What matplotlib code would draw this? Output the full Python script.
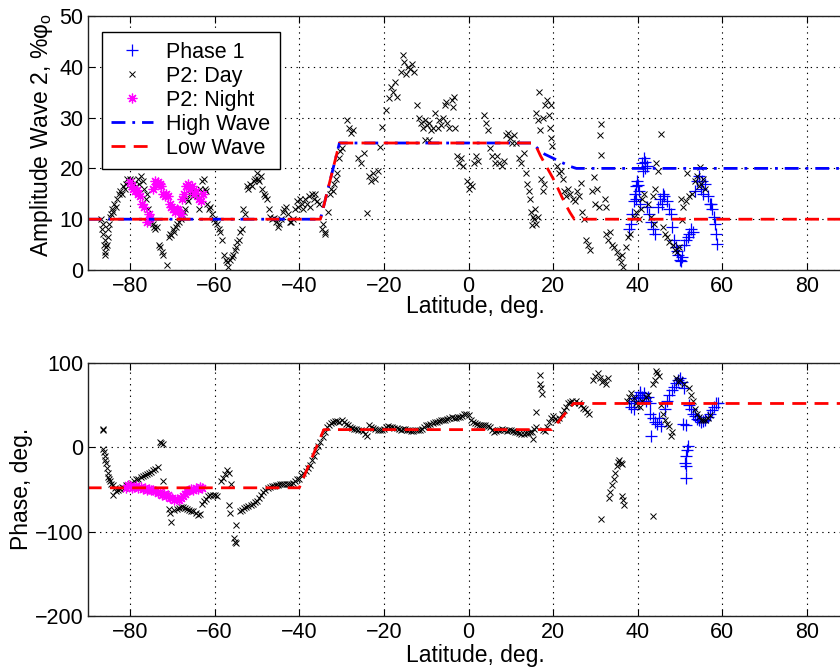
import matplotlib
matplotlib.use('Agg')
import matplotlib.pyplot as plt

plt.rcParams['font.family'] = ['Liberation Sans', 'DejaVu Sans']
plt.rcParams['mathtext.fontset'] = 'custom'
plt.rcParams['mathtext.rm'] = 'Liberation Sans'
plt.rcParams['mathtext.it'] = 'Liberation Sans:italic'
plt.rcParams['axes.unicode_minus'] = True

# ---------------- data (lat, value) ----------------
amp_day = [
(-86.8,10),(-86.6,8),(-86.5,9),(-86.3,7),(-86.2,5),(-86.0,6),(-85.9,3.5),(-85.8,3),(-85.6,4.5),(-85.5,5),(-85.3,6.5),(-85.1,8),(-85.0,9),(-84.8,10.5),(-84.5,11),(-84.2,12),(-84.0,11.5),(-83.7,13),(-83.4,12.5),(-83.0,14),(-82.7,15),(-82.3,15.5),(-82.0,15),(-81.6,16.5),(-81.3,16),(-81.0,17),(-80.7,18),(-80.3,17.5),(-80.0,18),(-79.5,17.8),(-79.0,17),(-78.6,16.5),(-78.2,18),(-77.8,17),(-77.4,18.5),(-77.0,17.5),(-76.6,16),(-76.3,14),(-76.0,15),(-75.7,12),(-75.3,10),(-75.0,9.5),(-74.6,9),(-74.3,8.5),(-74.0,8),(-73.6,8.5),(-73.2,5),(-72.8,4.5),(-72.5,3.5),(-72.2,3),(-71.2,1),
(-70.8,6.5),(-70.5,7),(-70.2,6.8),(-69.8,8),(-69.5,7.5),(-69.2,8.5),(-68.8,9),(-68.4,9.5),(-68.0,10),(-67.7,11),(-67.3,11.5),(-67.0,12),(-66.6,14),(-66.2,13.5),(-65.8,15),(-65.4,15.5),(-65.0,14.5),(-64.6,15),(-64.2,14.5),(-63.8,12),(-63.5,16),(-63.0,17.5),(-62.6,18),(-62.3,16),(-62.0,15.5),(-61.7,13),(-61.3,12),(-61.0,12.5),(-60.6,11),(-60.2,10),(-59.8,9.5),(-59.4,9),(-59.0,8),(-58.7,7.5),(-58.3,6),(-57.8,3),(-57.4,2),(-57.0,1.5),(-56.8,0.5),(-56.4,2),(-56.0,2.5),(-55.7,3),(-55.3,4),(-55.0,4.5),(-54.6,5.5),(-54.3,6),(-54.0,7.5),(-53.6,8),(-53.2,12),(-52.8,11),(-52.4,16.5),(-52.0,16),(-51.6,17),(-51.2,16.5),(-50.8,17.5),(-50.4,18),(-50.0,19),(-49.7,18),(-49.4,17.5),(-49.0,18.5),(-48.7,16),(-48.3,15),(-48.0,14.5),(-47.6,14),(-47.2,12),(-46.8,10.5),(-46.4,10),(-46.0,10.2),(-45.5,9.5),(-45.1,8.5),(-44.7,9),(-44.3,10),(-43.9,11.5),(-43.5,12),(-43.1,12.5),(-42.7,11),(-42.3,9.5),(-41.9,9.5),(-41.5,10),(-41.0,12),(-40.6,13.5),(-40.2,12.5),(-39.8,14),(-39.4,13),(-39.0,12),(-38.6,14),(-38.2,13),(-37.8,14.5),(-37.4,12.5),(-37.0,15),(-36.6,14),(-36.2,15),(-35.8,13.5),(-35.4,13),(-34.6,8),(-34.3,9),(-34.0,7.5),(-33.8,7),(-33.2,11.5),(-32.8,15),(-32.4,16),(-32.0,15.5),(-31.7,17),(-31.4,18),(-31.0,19),(-30.7,22),(-30.3,23.5),(-30.0,24),
(-28.6,29.5),(-28.2,28),(-27.8,27),(-27.4,27.5),(-26.0,22),(-25.5,21),(-24.8,23),(-24.0,11.2),(-23.5,18.5),(-23.0,17.5),(-22.5,19),(-22.0,18),(-21.5,19.5),(-20.8,24.3),(-20.4,28.1),(-19.6,31.4),(-18.8,33.8),(-18.3,36),(-17.8,35),(-17.3,37),(-16.9,34),(-16.0,39),(-15.5,42.3),(-15.2,41),(-14.7,38.5),(-14.2,40),(-13.8,39.5),(-13.3,40.5),(-12.8,39),(-12.1,32.5),(-11.7,30),(-11.2,29),(-10.8,28),(-10.3,29.5),(-10.2,25.5),(-9.8,28.5),(-9.3,29),(-9.3,25.5),(-8.8,27.5),(-8.4,28),(-8.0,31),(-7.2,28),(-7.0,29.5),(-6.4,28.5),(-6.0,30),(-5.5,32.5),(-5.2,33),(-5.0,29),(-4.5,28),(-3.9,33.5),(-3.6,32),(-3.4,34),(-3.2,28),(-2.6,22.5),(-2.2,21),(-1.8,22),(-1.4,20.5),(-0.4,17.5),(0.0,16),(0.4,17),(0.8,16.5),(1.3,21),(1.8,22.5),(2.3,21.5),(3.7,30.5),(4.2,29),(4.6,27.5),(5.0,24),(5.5,22.5),(6.2,21),(6.8,22.5),(7.3,21),(7.8,20.5),(8.3,21.5),(8.8,26.5),(9.3,27),(9.8,26),(10.3,25),(10.8,26.5),(11.3,25),(12.0,22),(12.5,21),(13.0,23),(13.5,19),(13.8,17),(14.2,15.5),(14.5,14),(14.8,11.5),(15.0,8.9),(15.2,10.5),(15.5,10),(15.8,12),(16.0,9),(16.5,10.5),
(16.0,31),(16.5,29.5),(16.6,35),(17.0,27.5),(17.5,30),(18.0,32.5),(18.5,33.5),(19.0,30.5),(19.2,28),(19.4,32.5),(19.5,26),(19.8,24.5),(17.2,18),(17.6,15.5),(17.9,17),(20.8,20.5),(21.3,19),(21.8,19.5),(22.3,18),(22.6,15.5),(23.1,14.5),(23.6,16),(24.1,15),(24.6,14),(25.1,13.5),(25.6,15.5),(26.1,14.5),(26.5,17.2),(26.8,11.5),(27.3,10),(27.8,6),(28.3,5),(28.7,4),(29.2,15.5),(29.7,18.4),(29.8,13),(30.3,16),(30.8,12.5),(31.1,26.5),(31.2,28.7),(31.4,22.6),(32.3,14),(32.6,12.5),(32.5,7),(33.0,6),(33.5,7.5),(34.0,5),(34.5,4.5),(35.0,3.5),(35.5,2.5),(36.0,1.5),(36.5,0.5),(36.3,3),(37.3,4.5),(37.7,6.5),(38.1,7),(39.2,10.5),(39.7,11.5),(40.2,10),(40.7,12),(41.0,14),(41.5,15),(42.5,13),(43.2,10.5),(43.5,14.5),(43.8,9),(44.0,16),(44.4,21),(44.8,19.5),(45.4,26.8),(46.0,8.5),(46.5,7),(47.0,6.5),(47.5,5.5),(48.3,5),(48.8,4),(49.2,3.5),(49.8,4.5),(50.2,14),(50.4,9.8),(50.8,12.5),(51.5,13.5),(51.7,19),(52.2,14.5),(52.8,15),(53.5,17.5),(54.0,18.5),(54.5,16.5),(54.8,20.2),(55.0,17),(55.5,18),(56.0,16)]

amp_night = [(-80.0,17.4),(-79.6,16.5),(-79.2,16),(-78.8,15.5),(-78.4,15.8),(-78.0,15),(-77.6,14.5),(-77.2,13),(-76.6,12.5),(-76.0,9.5),(-75.5,11),(-75.2,10.2),
(-74.6,16),(-74.2,17.5),(-73.8,17),(-73.4,17.3),(-73.0,17),(-72.6,16.5),(-72.2,15),(-71.8,14.5),(-71.4,15),(-71.0,14.5),(-70.6,13),(-70.2,12.5),(-69.8,12),(-69.4,11.5),(-69.0,12),(-68.6,11.8),(-68.0,11),
(-67.8,14),(-67.3,15),(-66.8,16.5),(-66.3,17),(-65.8,16),(-65.3,16.5),(-64.8,15),(-64.3,15.5),(-63.8,14),(-63.3,13.5),(-62.8,15)]

amp_p1 = [(38.0,8),(38.4,9),(38.7,11),(39.0,13.5),(39.3,15),(39.5,14),(39.6,16.5),(39.9,17.5),(40.0,16.8),(40.2,15.5),(40.5,13),(41.0,21),(41.3,19.5),(41.5,22),(41.7,21.2),(41.8,20),(42.2,20.5),(42.2,12.5),(42.7,11),(43.2,9.5),(43.7,8),(44.0,7),(44.8,12.5),(45.3,14),(45.8,13),(46.0,15),(46.3,14.5),(46.8,13.5),(47.3,12),(47.8,11),(48.0,8.5),(48.5,6),(49.0,4.5),(49.2,3.8),(49.5,3),(50.0,2),(50.2,1.8),(50.5,2.5),(51.0,5),(51.5,6),(51.8,6.5),(52.0,7),(52.5,8),(53.0,7.5),(53.5,15.5),(54.0,17.5),(54.5,18.5),(55.0,16),(55.3,17.5),(55.5,15),(56.0,17),(56.5,14.5),(57.0,13),(57.3,13),(57.5,12),(58.0,10.5),(58.3,9),(58.6,7),(58.8,5.2)]

ph_day = [
(-86.5,20),(-86.4,22),(-86.3,-2),(-86.1,-5),(-86.0,-10),(-85.8,-15),(-85.7,-18),(-85.5,-25),(-85.3,-30),(-85.1,-35),(-85.0,-38),(-84.7,-40),(-84.4,-43),(-84.0,-45),(-84.0,-56),(-83.6,-48),(-83.2,-52),(-82.8,-50),(-82.4,-49),(-82.0,-47),(-81.5,-48),(-81.0,-45),(-80.5,-46),(-80.0,-44),(-79.5,-42),(-79.0,-40),(-78.5,-38),(-78.0,-37),(-77.5,-35),(-77.0,-34),(-76.5,-33),(-76.0,-32),(-75.5,-30),(-75.0,-29),(-74.5,-27),(-74.0,-26),(-73.5,-23),(-73.0,6),(-72.6,5),(-72.2,4),(-72.2,-40),(-71.5,-55),(-70.8,-73),(-70.5,-78),(-70.3,-89),(-69.5,-74),(-69.0,-73),(-68.5,-72),(-68.0,-71),(-67.5,-71),(-67.0,-72),(-66.5,-73),(-66.0,-74),(-65.5,-75),(-65.0,-76),(-64.5,-78),(-64.0,-80),(-63.5,-79),(-63.0,-67),(-62.5,-64),(-62.0,-61),(-61.5,-58),(-61.0,-56),(-60.5,-57),(-60.0,-56),(-59.5,-58),(-58.5,-40),(-58.0,-36),(-57.5,-32),(-57.0,-27),(-56.6,-30),(-56.2,-43),(-56.5,-68),(-56.3,-78),(-55.0,-92),(-55.5,-108),(-55.2,-112),(-55.0,-113),
(-54.0,-76),(-53.5,-74),(-53.0,-72),(-52.5,-71),(-52.0,-70),(-51.5,-68),(-51.0,-67),(-50.5,-65),(-50.0,-64),(-49.5,-60),(-49.0,-56),(-48.5,-53),(-48.0,-50),(-47.5,-48),(-47.0,-47),(-46.5,-46),(-46.0,-46),(-45.5,-45),(-45.0,-45),(-44.5,-44),(-44.0,-44),(-43.5,-43),(-43.0,-43),(-42.5,-44),(-42.0,-44),(-41.5,-42),(-41.0,-40),(-40.5,-38),(-40.0,-37),(-39.5,-33),(-39.0,-30),(-38.5,-28),(-38.0,-25),(-37.5,-21),(-37.0,-15),(-36.5,-10),(-36.0,-4),(-35.5,1),(-35.0,6),(-34.5,12),(-34.0,18),(-33.5,24),(-33.0,27),(-32.5,29),(-32.0,30),(-31.5,31),(-31.0,31),(-30.5,30),(-30.0,32),(-29.5,30),(-29.0,28),(-28.5,26),(-28.0,24),(-27.5,23),(-27.0,22),(-26.5,22),(-26.0,21),(-25.5,20),(-25.0,19),(-24.5,16),(-24.0,14),(-23.5,26),(-23.0,24),(-22.5,23),(-22.0,22),(-21.5,21),(-21.0,20),(-20.5,21),(-20.0,22),(-19.5,24),(-19.0,25),(-18.5,24),(-18.0,24),(-17.5,23),(-17.0,23),(-16.5,22),(-16.0,21),(-15.5,22),(-15.0,22),(-14.5,21),(-14.0,20),(-13.5,19),(-13.0,19),(-12.5,20),(-12.0,21),(-11.5,21),(-11.0,22),(-10.5,24),(-10.0,26),(-9.5,27),(-9.0,28),(-8.5,29),(-8.0,30),(-7.5,30),(-7.0,31),(-6.5,32),(-6.0,33),(-5.5,33),(-5.0,34),(-4.5,35),(-4.0,36),(-3.5,35),(-3.0,35),(-2.5,36),(-2.0,36),(-1.5,37),(-1.0,39),(-0.5,40),(0.0,38),
(0.5,33),(1.0,30),(1.5,29),(2.0,28),(2.5,27),(3.0,27),(3.5,26),(4.0,26),(4.5,25),(5.0,24),(5.5,20),(6.0,18),(6.5,19),(7.0,20),(7.5,21),(8.0,22),(8.5,20),(9.0,19),(9.5,20),(10.0,20),(10.5,19),(11.0,18),(11.5,18),(12.0,17),(12.5,16),(13.0,16),(13.5,17),(14.0,17),(14.5,18),(15.0,18),(15.3,10),(15.5,22),(16.0,24),(16.0,42),(16.8,86),(17.0,75),(17.2,70),(17.4,63),(17.5,20),(18.0,19),(18.5,24),(19.0,30),(19.5,35),(20.0,37),(20.5,34),(21.0,32),(21.5,35),(22.0,40),(22.5,44),(23.0,48),(23.5,52),(24.0,54),(24.5,55),(25.0,53),(25.5,55),(26.0,52),(26.5,50),(27.0,47),(27.5,45),(28.0,42),(28.5,40),(29.5,80),(30.0,85),(30.5,88),(31.0,82),(31.5,78),(32.0,80),(32.5,75),(33.0,82),(31.2,-85),(33.2,-60),(33.5,-53),(34.0,-45),(34.3,-38),(34.6,-30),(35.0,-22),(35.3,-17),(35.6,-15),(36.0,-18),(36.3,-20),(36.2,-58),(36.5,-63),(36.8,-68),(43.7,-82),(37.5,55),(38.0,60),(38.5,65),(39.0,58),(39.5,52),(40.0,50),(40.5,48),(41.0,55),(42.0,60),(42.5,62),(43.5,75),(44.0,80),(44.5,88),(44.2,90),(45.0,84),(45.5,50),(46.0,40),(46.5,32),(47.0,28),(47.5,25),(47.8,14),(48.0,18),(49.0,82),(49.5,78),(50.0,80),(51.0,75),(52.0,70),(52.5,62),(53.0,55),(53.5,45),(54.0,40),(54.5,36),(55.0,33),(55.5,32),(56.0,33),(56.5,35),(57.0,38)]

ph_night = [(-81.0,-48),(-80.5,-45),(-80.0,-46),(-79.5,-48),(-79.0,-47),(-78.5,-46),(-78.0,-48),(-77.5,-47),(-77.0,-49),(-76.5,-48),(-76.0,-50),(-75.5,-49),(-75.0,-51),(-74.5,-50),(-74.0,-52),(-73.5,-54),(-73.0,-53),(-72.5,-56),(-72.0,-55),(-71.5,-58),(-71.0,-57),(-70.5,-60),(-70.0,-60),(-69.5,-62),(-69.0,-61),(-68.5,-62),(-68.0,-60),(-67.5,-58),(-67.0,-55),(-66.5,-52),(-66.0,-51),(-65.5,-49),(-65.0,-50),(-64.5,-48),(-64.0,-49),(-63.5,-47),(-63.0,-48)]

ph_p1 = [(38.0,52),(38.5,48),(39.0,55),(39.2,45),(39.5,58),(40.0,60),(40.5,62),(40.5,66),(41.0,60),(41.5,58),(41.5,64),(42.0,55),(42.5,60),(43.0,52),(43.0,40),(43.2,13),(43.5,35),(44.0,30),(44.5,28),(45.0,35),(45.5,25),(46.5,45),(47.0,55),(47.5,62),(48.0,68),(48.5,72),(49.0,76),(49.5,80),(50.0,82),(50.5,78),(51.0,70),(50.8,28),(51.3,26),(51.8,2),(51.6,-3),(51.4,-10),(51.2,-18),(51.3,-22),(51.3,-36),(52.0,50),(52.5,45),(53.0,40),(53.5,37),(54.0,34),(54.5,32),(55.0,30),(55.5,31),(56.0,33),(56.5,36),(57.0,40),(57.5,44),(58.0,48),(58.5,52),(59.0,53)]

high_amp_lat = [-90, -35, -30.5, 15, 16, 17, 18, 20, 22, 24, 25.5, 90]
high_amp_val = [10, 10, 25, 25, 24.2, 23.4, 22.8, 22, 21.2, 20.4, 20, 20]
low_amp_lat = [-90, -35, -30.5, 15, 16, 17, 18, 19, 20, 21, 22, 23, 24, 25, 90]
low_amp_val = [10, 10, 25, 25, 24.3, 22.5, 21, 19.5, 18, 16.3, 14.5, 12.8, 11.3, 10, 10]
low_ph_lat = [-90, -40, -34.2, 19.7, 24.8, 90]
low_ph_val = [-48, -48, 21, 21, 52, 52]

xticks = [-80, -60, -40, -20, 0, 20, 40, 60, 80]
amp_ticks = [0, 10, 20, 30, 40, 50]
ph_ticks = [-200, -100, 0, 100]


def unzip(pairs):
    return [p[0] for p in pairs], [p[1] for p in pairs]


FS_TICK = 15.5
FS_LAB = 16.5
FS_LEG = 15.5
fig = plt.figure(figsize=(8.4, 6.71), dpi=100)
ax1 = fig.add_axes([87.7 / 840, (671 - 270) / 671, 761.6 / 840, 254 / 671])
ax2 = fig.add_axes([87.7 / 840, (671 - 616) / 671, 761.6 / 840, 253 / 671])

star = (8, 2, 0)
xkw = dict(ls='none', marker='x', color='k', ms=5, mew=0.7)
pkw = dict(ls='none', marker='+', color='#0000ff', ms=8, mew=0.9)
skw = dict(ls='none', marker=star, color='#ff00ff', ms=7, mew=0.9)

# top panel
x, y = unzip(amp_p1)
ax1.plot(x, y, label='Phase 1', **pkw)
x, y = unzip(amp_day)
ax1.plot(x, y, label='P2: Day', **xkw)
x, y = unzip(amp_night)
ax1.plot(x, y, label='P2: Night', **skw)
ax1.plot(high_amp_lat, high_amp_val, color='#0000ff', lw=2.0,
         ls=(0, (5, 2.5, 1, 2.5)), label='High Wave')
ax1.plot(low_amp_lat, low_amp_val, color='#ff0000', lw=2.0,
         ls=(0, (5, 3)), label='Low Wave')
ax1.set_ylim(0, 50)
ax1.set_yticks(amp_ticks)

# bottom panel
x, y = unzip(ph_p1)
ax2.plot(x, y, **pkw)
x, y = unzip(ph_day)
ax2.plot(x, y, **xkw)
x, y = unzip(ph_night)
ax2.plot(x, y, **skw)
ax2.plot(low_ph_lat, low_ph_val, color='#ff0000', lw=2.0, ls=(0, (5, 3)))
ax2.set_ylim(-200, 100)
ax2.set_yticks(ph_ticks)

for ax in (ax1, ax2):
    ax.set_xlim(-90, 90)
    ax.set_xticks(xticks)
    ax.grid(True, color='k', linewidth=0.8, linestyle=(0, (1.2, 4)))
    ax.set_axisbelow(True)
    ax.tick_params(direction='in', top=True, right=True, length=5, width=0.8,
                   labelsize=FS_TICK, pad=4)
    ax.tick_params(axis='y', pad=3)
    for s in ax.spines.values():
        s.set_linewidth(1.0)
        s.set_color('#222222')
    ax.set_xlabel('Latitude, deg.', fontsize=FS_LAB)

ax1.set_ylabel('Amplitude Wave 2, %φ$_\\mathrm{o}$', fontsize=FS_LAB)
ax2.set_ylabel('Phase, deg.', fontsize=FS_LAB)
ax1.yaxis.set_label_coords(-0.043, 0.53)
ax2.yaxis.set_label_coords(-0.072, 0.504)
ax1.xaxis.set_label_coords(0.509, -0.1)
ax2.xaxis.set_label_coords(0.509, -0.112)

leg = ax1.legend(loc='upper left', bbox_to_anchor=(0.0184, 0.936),
                 borderaxespad=0, fontsize=FS_LEG, frameon=True, fancybox=False,
                 framealpha=1, edgecolor='k', numpoints=1, handlelength=1.95,
                 handletextpad=0.6, labelspacing=0.14, borderpad=0.45)
leg.get_frame().set_linewidth(1.0)

fig.savefig('out.png', dpi=100)
